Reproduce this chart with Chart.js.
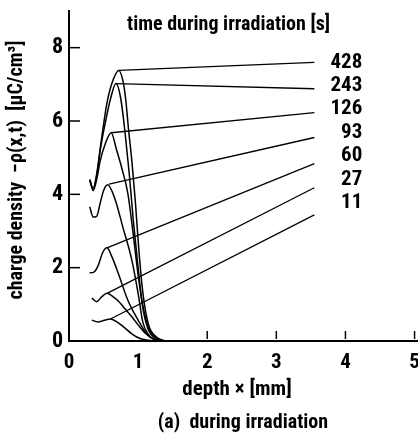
<!DOCTYPE html>
<html>
<head>
<meta charset="utf-8">
<script src="https://cdn.jsdelivr.net/npm/chart.js@4/dist/chart.umd.min.js"></script>
<style>
  html, body { margin: 0; padding: 0; background: #fff; }
  #wrap { width: 418px; height: 437px; }
</style>
</head>
<body>
<div id="wrap"><canvas id="myChart"></canvas></div>
<script>
// irradiation times, top label first
const times = ['428', '243', '126', '93', '60', '27', '11'];

// charge density profiles (depth mm, -rho uC/cm3)
const depth428 = [0.3, 0.35, 0.4, 0.47, 0.55, 0.64, 0.72, 0.78, 0.82, 0.86, 0.91, 0.96, 1.01, 1.07, 1.15, 1.27, 1.4];
const rho428 = [4.4, 4.15, 4.55, 5.5, 6.5, 7.13, 7.38, 7.1, 6.6, 5.8, 4.9, 3.8, 2.5, 1.3, 0.45, 0.1, 0];
const depth243 = [0.3, 0.35, 0.4, 0.46, 0.53, 0.6, 0.68, 0.75, 0.81, 0.87, 0.93, 1.0, 1.06, 1.14, 1.25, 1.38];
const rho243 = [4.4, 4.15, 4.5, 5.3, 6.0, 6.6, 7.02, 6.6, 5.7, 4.6, 3.3, 2.0, 1.0, 0.35, 0.08, 0];
const depth126 = [0.3, 0.35, 0.4, 0.45, 0.52, 0.61, 0.69, 0.77, 0.85, 0.93, 1.0, 1.07, 1.15, 1.25, 1.35];
const rho126 = [4.4, 4.1, 4.4, 4.9, 5.35, 5.68, 5.2, 4.67, 4.04, 2.9, 1.8, 0.95, 0.35, 0.08, 0];
const depth93 = [0.3, 0.35, 0.4, 0.45, 0.5, 0.56, 0.66, 0.78, 0.91, 1.0, 1.07, 1.15, 1.22, 1.3];
const rho93 = [3.66, 3.38, 3.4, 3.75, 4.1, 4.26, 3.9, 3.1, 2.2, 1.3, 0.5, 0.18, 0.05, 0];
const depth60 = [0.3, 0.36, 0.42, 0.49, 0.55, 0.62, 0.71, 0.85, 1.0, 1.14, 1.25, 1.35];
const rho60 = [1.86, 1.88, 2.05, 2.42, 2.54, 2.3, 1.86, 1.12, 0.57, 0.16, 0.03, 0];
const depth27 = [0.33, 0.4, 0.47, 0.55, 0.63, 0.71, 0.81, 0.91, 1.0, 1.1, 1.25, 1.35];
const rho27 = [1.17, 1.07, 1.2, 1.3, 1.22, 1.1, 0.88, 0.66, 0.44, 0.22, 0.03, 0];
const depth11 = [0.33, 0.42, 0.5, 0.6, 0.71, 0.81, 0.9, 0.98, 1.08, 1.2, 1.3];
const rho11 = [0.57, 0.52, 0.56, 0.6, 0.5, 0.35, 0.21, 0.11, 0.04, 0.01, 0];

const profileX = [depth428, depth243, depth126, depth93, depth60, depth27, depth11];
const profileY = [rho428, rho243, rho126, rho93, rho60, rho27, rho11];

// label leader lines: from each profile peak to the label column
const leaderStartX = [0.72, 0.68, 0.61, 0.58, 0.55, 0.55, 0.6];
const leaderStartY = [7.38, 7.02, 5.68, 4.28, 2.54, 1.3, 0.6];
const leaderEndX = 3.55;
const leaderEndY = [7.6, 6.88, 6.23, 5.55, 4.84, 4.18, 3.44];

const xTicks = [0, 1, 2, 3, 4, 5];
const yTicks = [0, 2, 4, 6, 8];

const FONT = '"Roboto Condensed", "DejaVu Sans Condensed", sans-serif';

const datasets = [];
times.forEach((t, i) => {
  datasets.push({
    label: t + ' s',
    data: profileX[i].map((x, k) => ({x: x, y: profileY[i][k]})),
    borderColor: '#000',
    borderWidth: 1.5,
    pointRadius: 0,
    cubicInterpolationMode: 'monotone',
    fill: false
  });
});
times.forEach((t, i) => {
  datasets.push({
    label: 'leader ' + t,
    data: [{x: leaderStartX[i], y: leaderStartY[i]}, {x: leaderEndX, y: leaderEndY[i]}],
    borderColor: '#000',
    borderWidth: 1.3,
    pointRadius: 0,
    tension: 0,
    fill: false
  });
});

// texts and inside tick marks
const decor = {
  id: 'decor',
  afterDraw(chart) {
    const {ctx, scales: {x, y}} = chart;
    ctx.save();
    ctx.strokeStyle = '#000';
    ctx.lineWidth = 1.5;
    yTicks.slice(1).forEach(v => {
      const py = y.getPixelForValue(v);
      ctx.beginPath();
      ctx.moveTo(x.left, py);
      ctx.lineTo(x.left + 11, py);
      ctx.stroke();
    });
    xTicks.slice(2).forEach(v => {
      const px = x.getPixelForValue(v);
      ctx.beginPath();
      ctx.moveTo(px, y.bottom - 2);
      ctx.lineTo(px, y.bottom - 10);
      ctx.stroke();
    });

    ctx.fillStyle = '#000';
    ctx.textBaseline = 'middle';

    // series labels, stacked right of the leader ends
    ctx.font = 'bold 21px ' + FONT;
    ctx.textAlign = 'right';
    const top = y.getPixelForValue(leaderEndY[0]);
    times.forEach((t, i) => {
      ctx.fillText(t, x.getPixelForValue(leaderEndX) + 48, top + i * 23.4);
    });

    ctx.textAlign = 'left';
    ctx.font = 'bold 20px ' + FONT;
    ctx.fillText('time during irradiation [s]', 127, 25, 204);

    ctx.textAlign = 'center';
    ctx.font = 'bold 21px ' + FONT;
    ctx.fillText('depth \u00d7 [mm]', 237, 390, 112);
    ctx.font = 'bold 20px ' + FONT;
    ctx.fillText('(a)  during irradiation', 243, 423, 174);

    ctx.translate(17, 170);
    ctx.rotate(-Math.PI / 2);
    ctx.font = 'bold 20px ' + FONT;
    ctx.fillText('charge density  \u2212\u03c1(x,t)  [\u03bcC/cm\u00b3]', 0, 0, 285);
    ctx.restore();
  }
};

new Chart(document.getElementById('myChart'), {
  type: 'line',
  data: {datasets: datasets},
  plugins: [decor],
  options: {
    responsive: true,
    maintainAspectRatio: false,
    animation: false,
    layout: {padding: {top: 11, right: 0, left: 0, bottom: 0}},
    plugins: {
      legend: {display: false},
      tooltip: {enabled: false}
    },
    scales: {
      x: {
        type: 'linear',
        min: 0,
        max: 5.05,
        afterBuildTicks: s => { s.ticks = xTicks.map(v => ({value: v})); },
        afterFit: s => { s.height = 96; s.paddingLeft = 0; s.paddingRight = 0; },
        grid: {display: false, drawTicks: false, tickLength: 0},
        border: {display: true, color: '#000', width: 2},
        ticks: {
          padding: 9,
          color: '#000',
          maxRotation: 0,
          font: {family: FONT, size: 21, weight: 'bold'}
        }
      },
      y: {
        type: 'linear',
        min: 0,
        max: 9,
        afterBuildTicks: s => { s.ticks = yTicks.map(v => ({value: v})); },
        afterFit: s => { s.width = 69; s.paddingTop = 0; s.paddingBottom = 0; },
        grid: {display: false, drawTicks: false, tickLength: 0},
        border: {display: true, color: '#000', width: 2},
        ticks: {
          padding: 6,
          color: '#000',
          font: {family: FONT, size: 22, weight: 'bold'}
        }
      }
    }
  }
});
</script>
</body>
</html>
